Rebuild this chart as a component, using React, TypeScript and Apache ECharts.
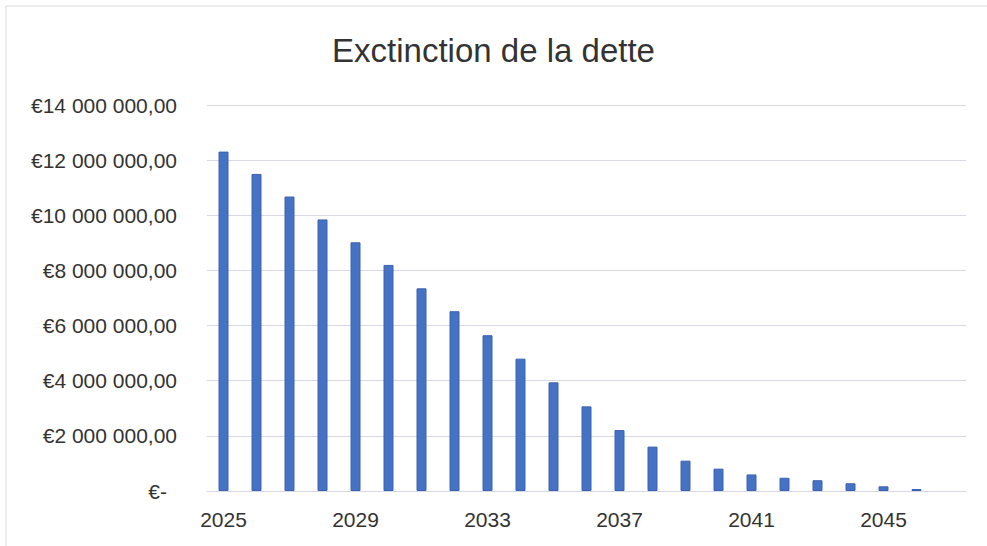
import React, { useEffect, useRef } from "react";
import * as echarts from "echarts";

const years: string[] = [
  "2025", "2026", "2027", "2028", "2029", "2030", "2031", "2032", "2033", "2034",
  "2035", "2036", "2037", "2038", "2039", "2040", "2041", "2042", "2043", "2044",
  "2045", "2046", "2047",
];
const debt: (number | null)[] = [
  12310000, 11500000, 10680000, 9850000, 9020000, 8200000, 7350000, 6520000,
  5650000, 4800000, 3940000, 3070000, 2210000, 1610000, 1100000, 810000,
  600000, 480000, 390000, 280000, 170000, 70000, null,
];
const title = "Exctinction de la dette";
const yMax = 14000000;
const yStep = 2000000;

function fmtEuro(v: number): string {
  if (v === 0) return "{z|€-}";
  const s = Math.round(v).toString().replace(/\B(?=(\d{3})+(?!\d))/g, " ");
  return "€" + s + ",00";
}

export default function App() {
  const ref = useRef<HTMLDivElement>(null);
  useEffect(() => {
    if (!ref.current) return;
    const chart = echarts.init(ref.current, null, { renderer: "svg" });
    const font = "'Liberation Sans', Arial, sans-serif";
    chart.setOption({
      animation: false,
      backgroundColor: "#ffffff",
      title: {
        text: title,
        left: "center",
        top: 29,
        textStyle: {
          fontFamily: font,
          fontSize: 33,
          fontWeight: "normal",
          color: "#333333",
        },
      },
      grid: { left: 207, right: 21, top: 105, bottom: 55 },
      xAxis: {
        type: "category",
        data: years,
        axisLine: { show: true, lineStyle: { color: "#d8d8e4", width: 1 } },
        axisTick: { show: false },
        axisLabel: {
          interval: 3,
          margin: 18,
          fontFamily: font,
          fontSize: 21,
          color: "#333333",
        },
      },
      yAxis: {
        type: "value",
        min: 0,
        max: yMax,
        interval: yStep,
        axisLine: { show: false },
        axisTick: { show: false },
        splitLine: { lineStyle: { color: "#d8d8e4", width: 1 } },
        axisLabel: {
          margin: 30,
          fontFamily: font,
          fontSize: 21,
          color: "#333333",
          formatter: (v: number) => fmtEuro(v),
          rich: {
            z: { fontFamily: font, fontSize: 21, color: "#333333", padding: [0, 10, 0, 0] },
          },
        },
      },
      series: [
        {
          type: "bar",
          data: debt,
          barWidth: 10,
          itemStyle: { color: "#4672c4", borderColor: "#3a62b3", borderWidth: 1 },
        },
      ],
      graphic: [
        {
          type: "rect",
          shape: { x: 6, y: 6, width: 1000, height: 600 },
          style: { fill: "none", stroke: "#dcdcdc", lineWidth: 1 },
          silent: true,
        },
      ],
    });
    return () => chart.dispose();
  }, []);
  return (
    <div
      ref={ref}
      style={{ position: "absolute", left: 0, top: 0, width: 987, height: 546 }}
    />
  );
}
